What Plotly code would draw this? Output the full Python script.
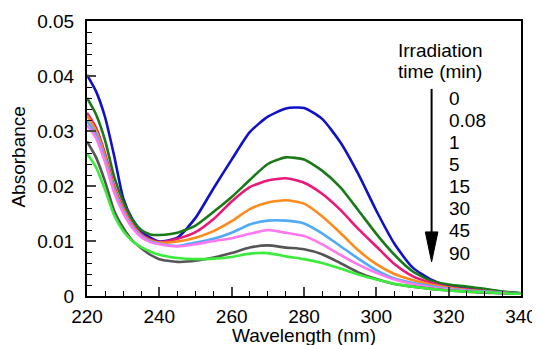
import plotly.graph_objects as go

wavelength = [220, 222.5, 225, 227.5, 230, 232.5, 235, 237.5, 240, 245, 250, 255, 260, 265, 270, 275, 280,
              285, 290, 295, 300, 305, 310, 315, 320, 325, 330, 335, 340]

t0 = [0.0402, 0.0372, 0.0325, 0.0255, 0.0178, 0.0140, 0.0118, 0.0106, 0.0099, 0.0106, 0.0142, 0.0196, 0.0248,
      0.0298, 0.0326, 0.0341, 0.0342, 0.0322, 0.0280, 0.0222, 0.0155, 0.0095, 0.0052, 0.0030, 0.0018, 0.0014,
      0.0010, 0.0007, 0.0005]
t008 = [0.0360, 0.0330, 0.0283, 0.0217, 0.0172, 0.0139, 0.0120, 0.0112, 0.0111, 0.0115, 0.0128, 0.0153, 0.0180,
        0.0211, 0.0240, 0.0252, 0.0248, 0.0228, 0.0198, 0.0156, 0.0113, 0.0075, 0.0045, 0.0028, 0.0021, 0.0017,
        0.0013, 0.0008, 0.0005]
t1 = [0.0333, 0.0306, 0.0259, 0.0200, 0.0160, 0.0130, 0.0112, 0.0103, 0.0098, 0.0104, 0.0116, 0.0140, 0.0172,
      0.0198, 0.0210, 0.0214, 0.0206, 0.0186, 0.0157, 0.0122, 0.0090, 0.0058, 0.0036, 0.0024, 0.0016, 0.0012,
      0.0009, 0.0006, 0.0004]
t5 = [0.0328, 0.0301, 0.0254, 0.0196, 0.0157, 0.0128, 0.0110, 0.0101, 0.0097, 0.0099, 0.0106, 0.0118, 0.0136,
      0.0158, 0.0170, 0.0174, 0.0168, 0.0145, 0.0115, 0.0083, 0.0058, 0.0040, 0.0029, 0.0021, 0.0015, 0.0011,
      0.0008, 0.0006, 0.0004]
t15 = [0.0318, 0.0294, 0.0248, 0.0192, 0.0154, 0.0126, 0.0109, 0.0099, 0.0095, 0.0091, 0.0097, 0.0104, 0.0115,
       0.0130, 0.0137, 0.0137, 0.0132, 0.0114, 0.0091, 0.0068, 0.0047, 0.0032, 0.0024, 0.0018, 0.0013, 0.0010,
       0.0008, 0.0006, 0.0004]
t30 = [0.0311, 0.0287, 0.0243, 0.0188, 0.0151, 0.0124, 0.0107, 0.0098, 0.0094, 0.0090, 0.0094, 0.0100, 0.0105,
       0.0113, 0.0120, 0.0115, 0.0109, 0.0094, 0.0075, 0.0057, 0.0042, 0.0030, 0.0022, 0.0016, 0.0012, 0.0009,
       0.0007, 0.0005, 0.0004]
t45 = [0.0281, 0.0252, 0.0208, 0.0155, 0.0124, 0.0101, 0.0087, 0.0075, 0.0067, 0.0062, 0.0064, 0.0070, 0.0078,
       0.0088, 0.0092, 0.0088, 0.0085, 0.0076, 0.0060, 0.0043, 0.0031, 0.0022, 0.0017, 0.0013, 0.0010, 0.0008,
       0.0006, 0.0005, 0.0004]
t90 = [0.0259, 0.0234, 0.0193, 0.0147, 0.0118, 0.0100, 0.0089, 0.0081, 0.0075, 0.0069, 0.0067, 0.0068, 0.0071,
       0.0077, 0.0078, 0.0072, 0.0067, 0.0060, 0.0050, 0.0039, 0.0030, 0.0022, 0.0017, 0.0013, 0.0010, 0.0008,
       0.0007, 0.0005, 0.0004]

series = [t0, t008, t1, t5, t15, t30, t45, t90]
time_labels = ["0", "0.08", "1", "5", "15", "30", "45", "90"]
colors = ["#1010c8", "#1a7a1a", "#ec1878", "#ff8a1c", "#50aaf8", "#ff78f0", "#555555", "#3cec3c"]

x_ticks = [220, 240, 260, 280, 300, 320, 340]
y_ticks = [0, 0.01, 0.02, 0.03, 0.04, 0.05]
y_tick_text = ["0", "0.01", "0.02", "0.03", "0.04", "0.05"]

FONT = "Liberation Sans, Arial, sans-serif"

fig = go.Figure()
for vals, col, name in zip(series, colors, time_labels):
    fig.add_trace(go.Scatter(x=wavelength, y=vals, mode="lines", name=name,
                             line=dict(color=col, width=2.6, shape="spline", smoothing=0.6),
                             showlegend=False, hoverinfo="skip"))

# page body adds an 8px margin, so the figure is sized to fit the 540x345 window
fig.update_layout(
    width=532, height=337,
    margin=dict(l=79, r=19, t=13, b=49),
    paper_bgcolor="white", plot_bgcolor="white",
    font=dict(family=FONT, size=19, color="black"),
)
fig.update_xaxes(
    range=[220, 340], tickvals=x_ticks, ticks="inside", ticklen=9, tickwidth=1.5,
    showline=True, mirror=True, linewidth=2, linecolor="black", showgrid=False, zeroline=False,
    ticklabelstandoff=2, automargin=False,
    minor=dict(dtick=5, ticks="inside", ticklen=5, tickwidth=1.2, tickcolor="black"),
)
fig.update_yaxes(
    range=[0, 0.05], tickvals=y_ticks, ticktext=y_tick_text, ticks="inside", ticklen=9, tickwidth=1.5,
    showline=True, mirror=True, linewidth=2, linecolor="black", showgrid=False, zeroline=False,
    ticklabelstandoff=7, automargin=False,
    minor=dict(dtick=0.002, ticks="inside", ticklen=5, tickwidth=1.2, tickcolor="black"),
)

# axis titles
fig.add_annotation(xref="paper", yref="paper", x=0.5, y=-0.145, xanchor="center", yanchor="middle",
                   text="Wavelength (nm)", showarrow=False, font=dict(size=19, family=FONT))
fig.add_annotation(xref="paper", yref="paper", x=-0.158, y=0.505, xanchor="center", yanchor="middle",
                   text="Absorbance", textangle=-90, showarrow=False, font=dict(size=19, family=FONT))

# legend-like annotation
fig.add_annotation(xref="paper", yref="paper", x=0.8145, y=0.892, xanchor="center", yanchor="middle",
                   text="Irradiation", showarrow=False, font=dict(size=19, family=FONT))
fig.add_annotation(xref="paper", yref="paper", x=0.8145, y=0.816, xanchor="center", yanchor="middle",
                   text="time (min)", showarrow=False, font=dict(size=19, family=FONT))
label_y0 = 0.719
label_step = 0.0804
for i, lab in enumerate(time_labels):
    fig.add_annotation(xref="paper", yref="paper", x=0.829, y=label_y0 - i * label_step,
                       xanchor="left", yanchor="middle", text=lab, showarrow=False,
                       font=dict(size=19, family=FONT))

# arrow
fig.add_shape(type="line", xref="paper", yref="paper", x0=0.794, x1=0.794, y0=0.753, y1=0.2,
              line=dict(color="black", width=2))
fig.add_shape(type="path", xref="paper", yref="paper",
              path="M 0.7795 0.233 L 0.8085 0.233 L 0.794 0.124 Z",
              fillcolor="black", line=dict(color="black", width=1))

fig.write_html("out.html")
